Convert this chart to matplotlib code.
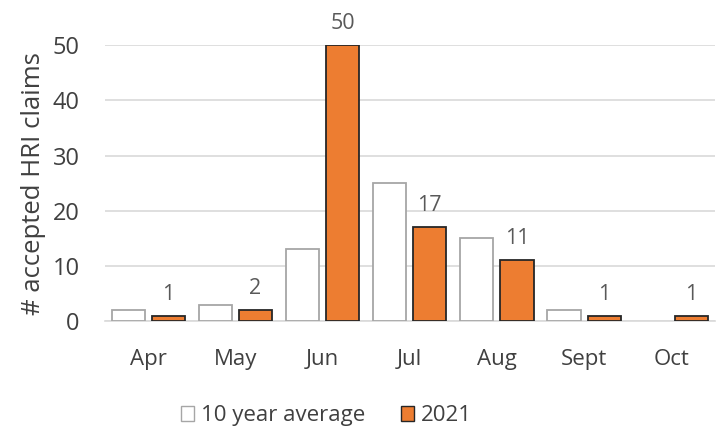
import numpy as np
import matplotlib.pyplot as plt
from matplotlib.patches import Patch

months = ['Apr', 'May', 'Jun', 'Jul', 'Aug', 'Sept', 'Oct']
avg_10yr = [2, 3, 13, 25, 15, 2, 0]
y2021 = [1, 2, 50, 17, 11, 1, 1]

plt.rcParams['font.family'] = ['Open Sans', 'DejaVu Sans']

fig = plt.figure(figsize=(7.17, 4.3), dpi=100)
ax = fig.add_axes([0.146, 0.253, 0.851, 0.642])

x = np.arange(len(months))
w = 0.38
off = 0.23
# zero-height bars get no outline (Oct average)
edges = ['#A6A6A6' if v > 0 else 'none' for v in avg_10yr]
ax.bar(x - off, avg_10yr, w, color='white', edgecolor=edges, linewidth=1.3, zorder=3)
ax.bar(x + off, y2021, w, color='#ED7D31', edgecolor='#262626', linewidth=1.3, zorder=3)

for xi, v in zip(x + off, y2021):
    ax.text(xi, v + 2.0, str(v), ha='center', va='bottom', fontsize=15.5,
            color='#595959', clip_on=False)

ax.set_xlim(-0.5, len(months) - 0.5)
ax.set_ylim(0, 50)
ax.set_yticks(range(0, 51, 10))
ax.set_xticks(x)
ax.set_xticklabels(months)
ax.tick_params(axis='both', length=0, labelsize=16, colors='#404040')
ax.tick_params(axis='y', labelsize=17, pad=18)
ax.tick_params(axis='x', pad=20)
ax.grid(axis='y', color='#D9D9D9', linewidth=1.2, zorder=0)
for s in ['top', 'right', 'left']:
    ax.spines[s].set_visible(False)
ax.spines['bottom'].set_color('#D9D9D9')
ax.spines['bottom'].set_linewidth(1.2)
ax.set_ylabel('# accepted HRI claims', fontsize=18.5, color='#404040', labelpad=5)

handles = [Patch(facecolor='white', edgecolor='#A6A6A6', label='10 year average'),
           Patch(facecolor='#ED7D31', edgecolor='#262626', label='2021')]
fig.legend(handles=handles, loc='lower center', bbox_to_anchor=(0.455, -0.038), ncol=2,
           frameon=False, fontsize=16, handlelength=0.6, handleheight=0.6,
           handletextpad=0.3, columnspacing=1.6, labelcolor='#404040')

fig.savefig('out.png', dpi=100)
